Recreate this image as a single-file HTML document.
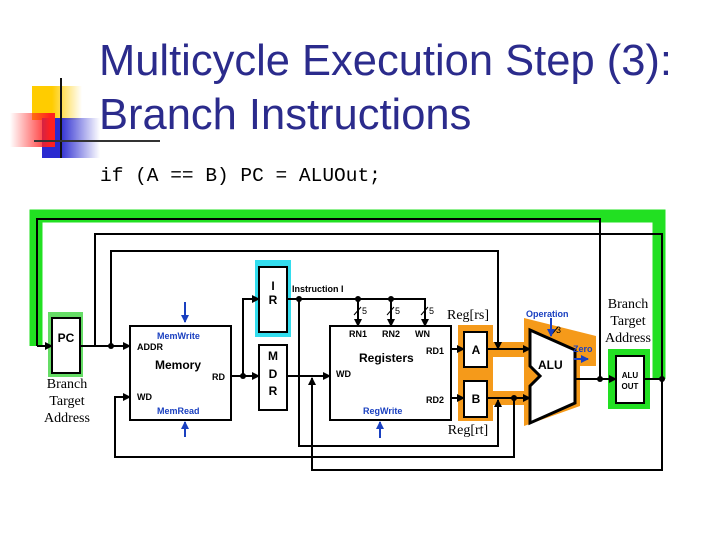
<!DOCTYPE html>
<html><head><meta charset="utf-8"><style>
html,body{margin:0;padding:0;background:#fff;}
body{width:720px;height:540px;overflow:hidden;position:relative;font-family:"Liberation Sans",sans-serif;}
</style></head><body>
<svg width="720" height="540" xmlns="http://www.w3.org/2000/svg" style="position:absolute;left:0;top:0">
<defs>
<linearGradient id="gy" x1="0" x2="1"><stop offset="0.4" stop-color="#ffcc00"/><stop offset="1" stop-color="#ffcc00" stop-opacity="0"/></linearGradient>
<linearGradient id="gb" x1="0" x2="1"><stop offset="0.3" stop-color="#2a2ad0"/><stop offset="1" stop-color="#2a2ad0" stop-opacity="0"/></linearGradient>
<linearGradient id="gr" x1="1" x2="0"><stop offset="0.1" stop-color="#ff2020"/><stop offset="1" stop-color="#ff2020" stop-opacity="0"/></linearGradient>
<marker id="ar" markerWidth="8" markerHeight="8" refX="7" refY="4" orient="auto" markerUnits="userSpaceOnUse"><path d="M0,0 L8,4 L0,8 z" fill="#000"/></marker>
<marker id="ab" markerWidth="8" markerHeight="8" refX="7" refY="4" orient="auto" markerUnits="userSpaceOnUse"><path d="M0,0 L8,4 L0,8 z" fill="#1a40c0"/></marker>
</defs>
<!-- logo -->
<rect x="32" y="86" width="50" height="34" fill="url(#gy)"/>
<rect x="42" y="118" width="58" height="40" fill="url(#gb)"/>
<rect x="10" y="113" width="45" height="34" fill="url(#gr)"/>
<line x1="61" y1="78" x2="61" y2="158" stroke="#111" stroke-width="2"/>
<line x1="34" y1="141" x2="160" y2="141" stroke="#333" stroke-width="2"/>
<text x="99" y="75" font-size="43.5" fill="#2b2b8c">Multicycle Execution Step (3):</text>
<text x="99" y="129" font-size="43.5" fill="#2b2b8c">Branch Instructions</text>
<text x="100" y="181" font-size="19.5" font-family="Liberation Mono,monospace" fill="#000">if (A == B) PC = ALUOut;</text>

<!-- highlights -->
<path d="M36,346 V216 H659 V379" fill="none" stroke="#22e022" stroke-width="13"/>
<rect x="48" y="312" width="35" height="65" fill="#66dd66"/>
<rect x="608" y="349" width="42" height="60" fill="#22e022"/>
<rect x="255" y="260" width="36" height="77" fill="#33ddee"/>
<rect x="458" y="325" width="35" height="96" fill="#f59a1a"/>
<path d="M493,342 H532 V405 H493 V391 H527 V357 H493 z" fill="#f59a1a"/>
<polygon points="524,318 596,336 596,366 580,366 580,406 524,426" fill="#f59a1a"/>

<g stroke="#000" stroke-width="2" fill="none">
<path d="M37,346 V219 H600 V379" />
<line x1="37" y1="346" x2="52" y2="346" marker-end="url(#ar)"/>
<path d="M95,346 V234 H662 V470 H312 V378" marker-end="url(#ar)"/>
<line x1="80" y1="346" x2="130" y2="346" marker-end="url(#ar)"/>
<path d="M111,346 V251 H498 V349" marker-end="url(#ar)"/>
<rect x="130" y="326" width="101" height="94" fill="#fff"/>
<line x1="231" y1="376" x2="259" y2="376" marker-end="url(#ar)"/>
<path d="M243,376 V299 H259" marker-end="url(#ar)"/>
<rect x="259" y="267" width="28" height="65" fill="#fff"/>
<rect x="259" y="345" width="28" height="65" fill="#fff"/>
<line x1="287" y1="376" x2="330" y2="376" marker-end="url(#ar)"/>
<path d="M287,299 H425 V326" marker-end="url(#ar)"/>
<line x1="358" y1="299" x2="358" y2="326" marker-end="url(#ar)"/>
<line x1="391" y1="299" x2="391" y2="326" marker-end="url(#ar)"/>
<path d="M299,299 V446 H498 V400" marker-end="url(#ar)"/>
<path d="M514,398 V457 H115 V397 H130" marker-end="url(#ar)"/>
<rect x="330" y="326" width="121" height="94" fill="#fff"/>
<line x1="451" y1="349" x2="464" y2="349" marker-end="url(#ar)"/>
<line x1="451" y1="398" x2="464" y2="398" marker-end="url(#ar)"/>
<rect x="464" y="332" width="23" height="35" fill="#fff"/>
<rect x="464" y="381" width="23" height="36" fill="#fff"/>
<line x1="487" y1="349" x2="530" y2="349" marker-end="url(#ar)"/>
<line x1="487" y1="398" x2="530" y2="398" marker-end="url(#ar)"/>
<polygon points="530,330 575,350 575,403 530,423 530,386 540,376 530,366" fill="#fff" stroke-width="3"/>
<line x1="575" y1="379" x2="616" y2="379" marker-end="url(#ar)"/>
<rect x="616" y="356" width="28" height="47" fill="#fff"/>
<line x1="644" y1="379" x2="662" y2="379"/>
<rect x="52" y="318" width="28" height="55" fill="#fff"/>
</g>
<g fill="#000">
<circle cx="111" cy="346" r="3"/><circle cx="243" cy="376" r="3"/><circle cx="299" cy="299" r="3"/>
<circle cx="358" cy="299" r="3"/><circle cx="391" cy="299" r="3"/><circle cx="514" cy="398" r="3"/>
<circle cx="600" cy="379" r="3"/><circle cx="662" cy="379" r="3"/>
</g>
<g stroke="#000" stroke-width="1"><line x1="354" y1="315" x2="361" y2="307"/><line x1="387" y1="315" x2="394" y2="307"/><line x1="421" y1="315" x2="428" y2="307"/><line x1="552" y1="334" x2="558" y2="327"/></g>
<g font-size="9" fill="#000"><text x="362" y="314">5</text><text x="395" y="314">5</text><text x="429" y="314">5</text><text x="556" y="333">3</text></g>
<g stroke="#1a40c0" stroke-width="2">
<line x1="185" y1="302" x2="185" y2="322" marker-end="url(#ab)"/>
<line x1="185" y1="437" x2="185" y2="422" marker-end="url(#ab)"/>
<line x1="380" y1="438" x2="380" y2="422" marker-end="url(#ab)"/>
<line x1="551" y1="318" x2="551" y2="336" marker-end="url(#ab)"/>
<line x1="574" y1="359" x2="588" y2="359" marker-end="url(#ab)"/>
</g>
<g font-weight="bold" fill="#000">
<text x="66" y="342" font-size="12" text-anchor="middle">PC</text>
<text x="273" y="290" font-size="12" text-anchor="middle">I</text><text x="273" y="304" font-size="12" text-anchor="middle">R</text>
<text x="273" y="360" font-size="12" text-anchor="middle">M</text><text x="273" y="378" font-size="12" text-anchor="middle">D</text><text x="273" y="395" font-size="12" text-anchor="middle">R</text>
<text x="137" y="350" font-size="9">ADDR</text>
<text x="155" y="369" font-size="12">Memory</text>
<text x="212" y="380" font-size="9">RD</text>
<text x="137" y="400" font-size="9">WD</text>
<text x="292" y="292" font-size="9">Instruction  I</text>
<text x="349" y="337" font-size="9">RN1</text><text x="382" y="337" font-size="9">RN2</text><text x="415" y="337" font-size="9">WN</text>
<text x="426" y="354" font-size="9">RD1</text><text x="426" y="403" font-size="9">RD2</text>
<text x="359" y="362" font-size="12">Registers</text>
<text x="336" y="377" font-size="9">WD</text>
<text x="476" y="354" font-size="12" text-anchor="middle">A</text><text x="476" y="403" font-size="12" text-anchor="middle">B</text>
<text x="538" y="369" font-size="12">ALU</text>
<text x="630" y="378" font-size="8" text-anchor="middle">ALU</text><text x="630" y="389" font-size="8" text-anchor="middle">OUT</text>
</g>
<g font-weight="bold" fill="#1a40c0" font-size="9">
<text x="157" y="339">MemWrite</text><text x="157" y="414">MemRead</text>
<text x="363" y="414">RegWrite</text><text x="526" y="317">Operation</text><text x="573" y="352">Zero</text>
</g>
<g font-family="Liberation Serif,serif" font-size="14" fill="#000" text-anchor="middle">
<text x="468" y="319">Reg[rs]</text><text x="468" y="434">Reg[rt]</text>
<text x="628" y="308">Branch</text><text x="628" y="325">Target</text><text x="628" y="342">Address</text>
<text x="67" y="388">Branch</text><text x="67" y="405">Target</text><text x="67" y="422">Address</text>
</g>
</svg>
</body></html>
